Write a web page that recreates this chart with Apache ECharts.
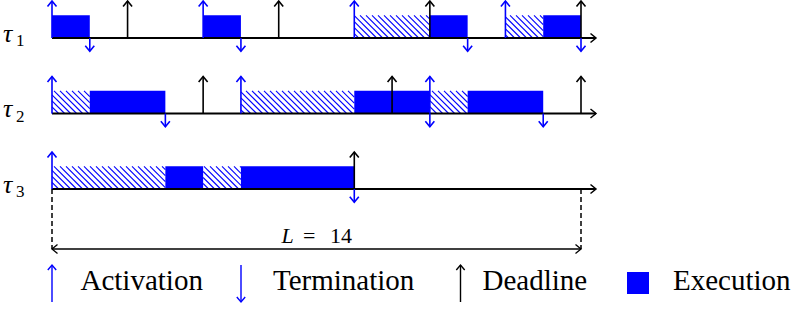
<!DOCTYPE html>
<html>
<head>
<meta charset="utf-8">
<script src="https://cdn.jsdelivr.net/npm/echarts@6/dist/echarts.min.js"></script>
<style>html,body{margin:0;padding:0;background:#fff}#c{width:794px;height:309px}</style>
</head>
<body>
<div id="c"></div>
<script>
// ---- data ----
const tasks = ['τ1', 'τ2', 'τ3'];
const execIntervals = [
  [[0, 1], [4, 5], [10, 11], [13, 14]],
  [[1, 3], [8, 10], [11, 13]],
  [[3, 4], [5, 8]]
];
const waitIntervals = [
  [[8, 10], [12, 13]],
  [[0, 1], [5, 8], [10, 11]],
  [[0, 3], [4, 5]]
];
const activations = [[0, 4, 8, 12], [0, 5, 10], [0]];
const terminations = [[1, 5, 11, 14], [3, 10, 13], [8]];
const deadlines = [[2, 6, 10, 14], [4, 9, 14], [8]];
const hyperperiod = 14;
const legendLabels = ['Activation', 'Termination', 'Deadline', 'Execution'];

// ---- styles ----
const BLUE = '#0000ff';
const BLACK = '#000000';
const SERIF = 'Liberation Serif';

function vArrow(x, yFrom, yTo, color, lw, hw, hl) {
  const dir = yTo < yFrom ? 1 : -1;
  return [
    { type: 'line', shape: { x1: x, y1: yFrom, x2: x, y2: yTo }, style: { stroke: color, lineWidth: lw } },
    { type: 'polyline', shape: { points: [[x - hw, yTo + dir * hl], [x, yTo], [x + hw, yTo + dir * hl]] },
      style: { stroke: color, lineWidth: lw, fill: null } }
  ];
}
function hArrowHead(x, y, dir, color, lw, hw, hl) {
  return { type: 'polyline', shape: { points: [[x - dir * hl, y - hw], [x, y], [x - dir * hl, y + hw]] },
    style: { stroke: color, lineWidth: lw, fill: null } };
}
function hatch(x0, x1, y0, y1, step, color) {
  const h = y1 - y0;
  const out = [];
  const startC = Math.floor((x0 - h) / step) * step;
  for (let c = startC; c <= x1; c += step) {
    const xa = Math.max(c, x0), xb = Math.min(c + h, x1);
    if (xb - xa <= 0.3) continue;
    out.push({ type: 'line', shape: { x1: xa, y1: y0 + (xa - c), x2: xb, y2: y0 + (xb - c) },
      style: { stroke: color, lineWidth: 1.1 } });
  }
  return out;
}
// left/top anchored text (x = left edge, yMid = visual middle of the line box)
function txt(text, x, yMid, size, italic) {
  return { type: 'text', style: { text: text, x: x, y: yMid - size / 2,
    fontFamily: SERIF, fontSize: size, fontStyle: italic ? 'italic' : 'normal',
    font: (italic ? 'italic ' : '') + size + 'px ' + SERIF, fill: BLACK } };
}

function renderRow(params, api) {
  const row = api.value(1);
  const y = api.coord([0, row])[1];
  const band = api.size([0, 1])[1];
  const X = t => api.coord([t, row])[0];
  const barH = band * 0.3;
  const upLen = band * 0.49;
  const downLen = band * 0.175;
  const ch = [];
  waitIntervals[row].forEach(([a, b]) => {
    hatch(X(a), X(b), y - barH, y, 6, BLUE).forEach(e => ch.push(e));
  });
  execIntervals[row].forEach(([a, b]) => {
    ch.push({ type: 'rect', shape: { x: X(a), y: y - barH, width: X(b) - X(a), height: barH }, style: { fill: BLUE } });
  });
  const xEnd = X(hyperperiod) + 15;
  ch.push({ type: 'line', shape: { x1: X(0), y1: y, x2: xEnd, y2: y }, style: { stroke: BLACK, lineWidth: 1.8 } });
  ch.push(hArrowHead(xEnd, y, 1, BLACK, 1.5, 4.5, 5.5));
  terminations[row].forEach(t => vArrow(X(t), y, y + downLen, BLUE, 1.6, 4.5, 5.5).forEach(e => ch.push(e)));
  deadlines[row].forEach(t => vArrow(X(t), y, y - upLen, BLACK, 1.6, 4.5, 5.5).forEach(e => ch.push(e)));
  activations[row].forEach(t => vArrow(X(t), y, y - upLen, BLUE, 1.6, 4.5, 5.5).forEach(e => ch.push(e)));
  const name = tasks[row];
  ch.push(txt(name.charAt(0), 3, y - 5, 26, true));
  ch.push(txt(name.slice(1), 16, y + 2.5, 17, false));
  return { type: 'group', children: ch };
}

function renderHyper(params, api) {
  const row = api.value(1);
  const y = api.coord([0, row])[1];
  const band = api.size([0, 1])[1];
  const x0 = api.coord([0, row])[0];
  const x1 = api.coord([api.value(0), row])[0];
  const ly = y + band * 0.795;
  const ch = [];
  [x0, x1].forEach(x => ch.push({ type: 'line', shape: { x1: x, y1: y, x2: x, y2: ly },
    style: { stroke: BLACK, lineWidth: 1.5, lineDash: [5, 3] } }));
  ch.push({ type: 'line', shape: { x1: x0, y1: ly, x2: x1, y2: ly }, style: { stroke: BLACK, lineWidth: 1.3 } });
  ch.push(hArrowHead(x0, ly, -1, BLACK, 1.3, 4.5, 5.5));
  ch.push(hArrowHead(x1, ly, 1, BLACK, 1.3, 4.5, 5.5));
  const cx = (x0 + x1) / 2;
  const ty = ly - 13.7;
  ch.push(txt('L', cx - 35, ty, 22, true));
  ch.push(txt('=', cx - 13.5, ty, 22, false));
  ch.push(txt(String(api.value(0)), cx + 13.5, ty, 22, false));
  return { type: 'group', children: ch };
}

// legend (layout positions)
const legendY = 279.5;
const legendEls = [];
vArrow(52, 302, 265, BLUE, 1.4, 4.2, 5).forEach(e => legendEls.push(e));
vArrow(241, 265, 302, BLUE, 1.4, 4.2, 5).forEach(e => legendEls.push(e));
vArrow(460.5, 302, 265, BLACK, 1.4, 4.2, 5).forEach(e => legendEls.push(e));
legendEls.push({ type: 'rect', shape: { x: 627, y: 272, width: 22, height: 22 }, style: { fill: BLUE } });
[80.5, 273, 482.5, 673].forEach((x, i) => legendEls.push(txt(legendLabels[i], x, legendY, 29, false)));

const chart = echarts.init(document.getElementById('c'), null, { renderer: 'svg' });
chart.setOption({
  animation: false,
  backgroundColor: '#fff',
  grid: { left: 52, top: 0.25, width: 529, height: 226.5, containLabel: false },
  xAxis: { type: 'value', min: 0, max: hyperperiod, show: false },
  yAxis: { type: 'category', data: tasks, inverse: true, show: false },
  graphic: { elements: legendEls },
  series: [
    { type: 'custom', renderItem: renderRow, clip: false,
      data: tasks.map((t, i) => [0, i]) },
    { type: 'custom', renderItem: renderHyper, clip: false,
      data: [[hyperperiod, tasks.length - 1]] }
  ]
});
</script>
</body>
</html>
